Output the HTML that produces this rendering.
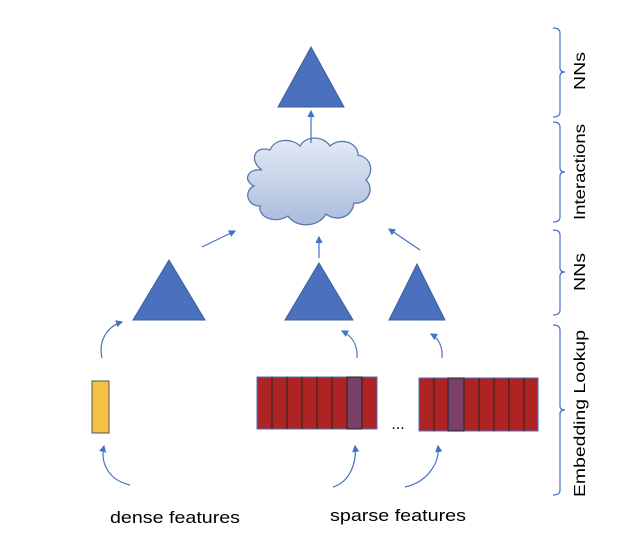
<!DOCTYPE html>
<html><head><style>body{margin:0;background:#fff}</style></head><body>
<svg width="624" height="552" xmlns="http://www.w3.org/2000/svg" font-family="Liberation Sans, sans-serif">
<defs>
<marker id="a" markerWidth="6" markerHeight="6" refX="5" refY="3" orient="auto"><path d="M0,0L6,3L0,6z" fill="#4472C4"/></marker>
<linearGradient id="g" x1="0" y1="0" x2="0" y2="1"><stop offset="0" stop-color="#e4eaf5"/><stop offset="1" stop-color="#a9bcdd"/></linearGradient>
</defs>
<g fill="#4A70BE" stroke="#3D5F9E" stroke-width="1">
<polygon points="311,47 344,107 278,107"/>
<polygon points="169,260 205,320 133,320"/>
<polygon points="319,263 353,320 285,320"/>
<polygon points="417,264 445,320 389,320"/>
</g>
<path d="M262,170 C248,160 255,145 270,150 C275,138 292,138 300,146 C306,135 324,136 330,146 C340,137 358,142 358,155 C372,158 374,172 366,180 C376,190 366,205 354,203 C352,218 336,222 326,214 C318,228 296,228 288,216 C276,224 258,218 260,206 C246,206 244,190 254,186 C242,180 248,168 262,170 Z" fill="url(#g)" stroke="#5a78a8" stroke-width="1.3"/>
<g stroke="#4472C4" stroke-width="1.2" fill="none" marker-end="url(#a)">
<line x1="311" y1="143" x2="311" y2="111"/>
<line x1="202" y1="247" x2="235" y2="231"/>
<line x1="319" y1="258" x2="319" y2="237"/>
<line x1="420" y1="250" x2="389" y2="229"/>
<path d="M102,358 C98,340 108,326 122,322"/>
<path d="M357,358 C358,345 352,336 342,331"/>
<path d="M442,358 C443,346 438,338 431,334"/>
<path d="M130,485 C108,480 100,462 104,446"/>
<path d="M333,487 C350,482 357,462 355,446"/>
<path d="M405,487 C428,482 440,462 438,446"/>
</g>
<rect x="92" y="381" width="17" height="52" fill="#F4C046" stroke="#555" stroke-width="1"/>
<g stroke="#222" stroke-width="1">
<rect x="257" y="377" width="120" height="52" fill="#AE2424" stroke="#4472C4"/>
<rect x="347" y="377" width="15" height="52" fill="#7A4068"/>
<line x1="272" y1="377" x2="272" y2="429"/><line x1="287" y1="377" x2="287" y2="429"/><line x1="302" y1="377" x2="302" y2="429"/><line x1="317" y1="377" x2="317" y2="429"/><line x1="332" y1="377" x2="332" y2="429"/><line x1="362" y1="377" x2="362" y2="429"/>
<rect x="419" y="378" width="119" height="53" fill="#AE2424" stroke="#4472C4"/>
<rect x="448" y="378" width="16" height="53" fill="#7A4068"/>
<line x1="434" y1="378" x2="434" y2="431"/><line x1="479" y1="378" x2="479" y2="431"/><line x1="494" y1="378" x2="494" y2="431"/><line x1="509" y1="378" x2="509" y2="431"/><line x1="524" y1="378" x2="524" y2="431"/>
</g>
<text x="398" y="429" font-size="16" text-anchor="middle">...</text>
<text x="110" y="523" font-size="17" textLength="130" lengthAdjust="spacingAndGlyphs">dense features</text>
<text x="330" y="521" font-size="17" textLength="136" lengthAdjust="spacingAndGlyphs">sparse features</text>
<g stroke="#4472C4" stroke-width="1.2" fill="none">
<path d="M553,28 Q560,28 560,33 V68 Q560,72 565,72 Q560,72 560,76 V112 Q560,117 553,117"/>
<path d="M553,122 Q560,122 560,127 V168 Q560,172 565,172 Q560,172 560,176 V217 Q560,222 553,222"/>
<path d="M553,230 Q560,230 560,235 V268 Q560,272 565,272 Q560,272 560,276 V310 Q560,315 553,315"/>
<path d="M553,325 Q560,325 560,330 V406 Q560,410 565,410 Q560,410 560,414 V490 Q560,495 553,495"/>
</g>
<g font-size="16">
<text transform="translate(585,90) rotate(-90)" textLength="38" lengthAdjust="spacingAndGlyphs">NNs</text>
<text transform="translate(585,220) rotate(-90)" textLength="96" lengthAdjust="spacingAndGlyphs">Interactions</text>
<text transform="translate(585,291) rotate(-90)" textLength="38" lengthAdjust="spacingAndGlyphs">NNs</text>
<text transform="translate(585,497) rotate(-90)" textLength="167" lengthAdjust="spacingAndGlyphs">Embedding Lookup</text>
</g>
</svg>
</body></html>
